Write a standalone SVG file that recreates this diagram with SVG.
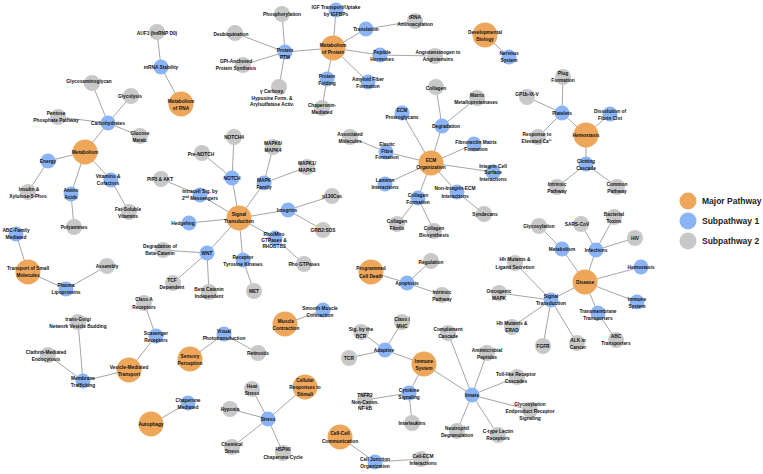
<svg xmlns="http://www.w3.org/2000/svg" width="763" height="474" viewBox="0 0 763 474">
<style>
.maj{fill:#EDA65A}
.s1{fill:#8AB4F6}
.s2{fill:#C8C8C8}
#edges line{stroke:#A6A6A6;stroke-width:1}
text{font-family:"Liberation Sans",Arial,sans-serif;font-size:4.8px;font-weight:bold;fill:#111;text-anchor:middle;dominant-baseline:central}
.leg{font-size:8.5px;fill:#222;text-anchor:start}
</style>
<rect width="763" height="474" fill="#fff"/>
<g id="edges">
<line x1="157" y1="32" x2="161" y2="67"/>
<line x1="161" y1="67" x2="181" y2="104"/>
<line x1="92" y1="83" x2="108" y2="123"/>
<line x1="131" y1="96" x2="108" y2="123"/>
<line x1="58" y1="117" x2="108" y2="123"/>
<line x1="140" y1="136" x2="108" y2="123"/>
<line x1="108" y1="123" x2="85" y2="152"/>
<line x1="85" y1="152" x2="48" y2="161"/>
<line x1="48" y1="161" x2="28" y2="192"/>
<line x1="85" y1="152" x2="71" y2="194"/>
<line x1="71" y1="194" x2="74" y2="227"/>
<line x1="85" y1="152" x2="111" y2="180"/>
<line x1="111" y1="180" x2="129" y2="212"/>
<line x1="16" y1="234" x2="28" y2="272"/>
<line x1="28" y1="272" x2="66" y2="289"/>
<line x1="66" y1="289" x2="107" y2="266"/>
<line x1="282" y1="14" x2="285" y2="52"/>
<line x1="235" y1="33" x2="285" y2="52"/>
<line x1="243" y1="65" x2="285" y2="52"/>
<line x1="279" y1="87" x2="285" y2="52"/>
<line x1="285" y1="52" x2="333" y2="48"/>
<line x1="336" y1="10" x2="333" y2="48"/>
<line x1="366" y1="29" x2="333" y2="48"/>
<line x1="366" y1="29" x2="415" y2="21"/>
<line x1="380" y1="55" x2="333" y2="48"/>
<line x1="380" y1="55" x2="435" y2="56"/>
<line x1="327" y1="79" x2="333" y2="48"/>
<line x1="327" y1="79" x2="322" y2="108"/>
<line x1="368" y1="82" x2="333" y2="48"/>
<line x1="485" y1="35" x2="509" y2="57"/>
<line x1="436" y1="87" x2="442" y2="126"/>
<line x1="477" y1="98" x2="442" y2="126"/>
<line x1="442" y1="126" x2="431" y2="163"/>
<line x1="402" y1="113" x2="431" y2="163"/>
<line x1="474" y1="144" x2="431" y2="163"/>
<line x1="386" y1="152" x2="431" y2="163"/>
<line x1="386" y1="152" x2="350" y2="137"/>
<line x1="385" y1="184" x2="431" y2="163"/>
<line x1="493" y1="172" x2="431" y2="163"/>
<line x1="457" y1="192" x2="431" y2="163"/>
<line x1="457" y1="192" x2="484" y2="214"/>
<line x1="418" y1="198" x2="431" y2="163"/>
<line x1="418" y1="198" x2="397" y2="224"/>
<line x1="418" y1="198" x2="434" y2="231"/>
<line x1="527" y1="97" x2="562" y2="113"/>
<line x1="563" y1="77" x2="562" y2="113"/>
<line x1="538" y1="137" x2="562" y2="113"/>
<line x1="562" y1="113" x2="586" y2="135"/>
<line x1="610" y1="114" x2="586" y2="135"/>
<line x1="586" y1="135" x2="586" y2="164"/>
<line x1="586" y1="164" x2="557" y2="187"/>
<line x1="586" y1="164" x2="617" y2="187"/>
<line x1="239" y1="218" x2="232" y2="178"/>
<line x1="232" y1="178" x2="234" y2="137"/>
<line x1="232" y1="178" x2="202" y2="153"/>
<line x1="239" y1="218" x2="264" y2="183"/>
<line x1="264" y1="183" x2="273" y2="147"/>
<line x1="264" y1="183" x2="307" y2="167"/>
<line x1="239" y1="218" x2="200" y2="195"/>
<line x1="200" y1="195" x2="161" y2="179"/>
<line x1="239" y1="218" x2="189" y2="223"/>
<line x1="239" y1="218" x2="288" y2="210"/>
<line x1="288" y1="210" x2="332" y2="196"/>
<line x1="288" y1="210" x2="323" y2="230"/>
<line x1="239" y1="218" x2="275" y2="238"/>
<line x1="275" y1="238" x2="304" y2="264"/>
<line x1="239" y1="218" x2="243" y2="260"/>
<line x1="243" y1="260" x2="254" y2="291"/>
<line x1="239" y1="218" x2="207" y2="253"/>
<line x1="207" y1="253" x2="163" y2="250"/>
<line x1="207" y1="253" x2="173" y2="283"/>
<line x1="207" y1="253" x2="209" y2="292"/>
<line x1="371" y1="272" x2="407" y2="283"/>
<line x1="407" y1="283" x2="431" y2="261"/>
<line x1="407" y1="283" x2="442" y2="295"/>
<line x1="285" y1="324" x2="323" y2="310"/>
<line x1="585" y1="282" x2="562" y2="249"/>
<line x1="562" y1="249" x2="539" y2="226"/>
<line x1="585" y1="282" x2="596" y2="250"/>
<line x1="596" y1="250" x2="581" y2="224"/>
<line x1="596" y1="250" x2="614" y2="217"/>
<line x1="596" y1="250" x2="635" y2="238"/>
<line x1="585" y1="282" x2="641" y2="267"/>
<line x1="585" y1="282" x2="637" y2="302"/>
<line x1="585" y1="282" x2="598" y2="313"/>
<line x1="598" y1="313" x2="616" y2="340"/>
<line x1="585" y1="282" x2="551" y2="300"/>
<line x1="551" y1="300" x2="515" y2="263"/>
<line x1="551" y1="300" x2="499" y2="293"/>
<line x1="551" y1="300" x2="512" y2="327"/>
<line x1="551" y1="300" x2="543" y2="346"/>
<line x1="551" y1="300" x2="577" y2="343"/>
<line x1="144" y1="303" x2="156" y2="336"/>
<line x1="156" y1="336" x2="129" y2="370"/>
<line x1="129" y1="370" x2="83" y2="381"/>
<line x1="83" y1="381" x2="78" y2="322"/>
<line x1="83" y1="381" x2="48" y2="355"/>
<line x1="190" y1="359" x2="224" y2="334"/>
<line x1="224" y1="334" x2="258" y2="353"/>
<line x1="151" y1="424" x2="188" y2="403"/>
<line x1="305" y1="387" x2="268" y2="419"/>
<line x1="268" y1="419" x2="252" y2="389"/>
<line x1="268" y1="419" x2="230" y2="409"/>
<line x1="268" y1="419" x2="232" y2="447"/>
<line x1="268" y1="419" x2="283" y2="453"/>
<line x1="424" y1="364" x2="385" y2="350"/>
<line x1="385" y1="350" x2="402" y2="322"/>
<line x1="385" y1="350" x2="361" y2="332"/>
<line x1="385" y1="350" x2="349" y2="358"/>
<line x1="424" y1="364" x2="409" y2="393"/>
<line x1="409" y1="393" x2="365" y2="400"/>
<line x1="409" y1="393" x2="412" y2="423"/>
<line x1="424" y1="364" x2="472" y2="395"/>
<line x1="472" y1="395" x2="448" y2="333"/>
<line x1="472" y1="395" x2="487" y2="353"/>
<line x1="472" y1="395" x2="517" y2="377"/>
<line x1="472" y1="395" x2="530" y2="410"/>
<line x1="472" y1="395" x2="498" y2="435"/>
<line x1="472" y1="395" x2="457" y2="431"/>
<line x1="340" y1="437" x2="375" y2="462"/>
<line x1="375" y1="462" x2="421" y2="459"/>
</g>
<g id="nodes">
<g id="metab-rna"><circle class="maj" cx="181" cy="104" r="12.5"/><text x="181" y="101">Metabolism</text><text x="181" y="108">of RNA</text></g>
<g id="mrna-stability"><circle class="s1" cx="161" cy="67" r="7.5"/><text x="161" y="67">mRNA Stability</text></g>
<g id="auf1"><circle class="s2" cx="157" cy="32" r="8"/><text x="157" y="33">AUF1 (hnRNP D0)</text></g>
<g id="metabolism"><circle class="maj" cx="85" cy="152" r="12.5"/><text x="85" y="152">Metabolism</text></g>
<g id="carbohydrates"><circle class="s1" cx="108" cy="123" r="7.5"/><text x="108" y="123">Carbohydrates</text></g>
<g id="glycosaminoglycan"><circle class="s2" cx="92" cy="83" r="8"/><text x="89" y="81">Glycosaminoglycan</text></g>
<g id="glycolysis"><circle class="s2" cx="131" cy="96" r="8"/><text x="130" y="96">Glycolysis</text></g>
<g id="pentose"><circle class="s2" cx="58" cy="117" r="8"/><text x="56" y="113">Pentose</text><text x="56" y="120">Phosphate Pathway</text></g>
<g id="glucose"><circle class="s2" cx="140" cy="136" r="8"/><text x="140" y="133">Glucose</text><text x="140" y="140">Metab.</text></g>
<g id="energy"><circle class="s1" cx="48" cy="161" r="7.5"/><text x="48" y="161">Energy</text></g>
<g id="insulin"><circle class="s2" cx="28" cy="192" r="8"/><text x="29" y="189">Insulin &amp;</text><text x="28" y="196">Xylulose-5-Phos</text></g>
<g id="amino-acids"><circle class="s1" cx="71" cy="194" r="7.5"/><text x="71" y="190">Amino</text><text x="71" y="197">Acids</text></g>
<g id="polyamines"><circle class="s2" cx="74" cy="227" r="8"/><text x="74" y="227">Polyamines</text></g>
<g id="vitamins"><circle class="s1" cx="111" cy="180" r="7.5"/><text x="108" y="176">Vitamins &amp;</text><text x="108" y="183">Cofactors</text></g>
<g id="fat-soluble"><circle class="s2" cx="129" cy="212" r="8"/><text x="128" y="209">Fat-Soluble</text><text x="128" y="216">Vitamins</text></g>
<g id="abc-family"><circle class="s1" cx="16" cy="234" r="7.5"/><text x="16" y="230">ABC-Family</text><text x="16" y="237">Mediated</text></g>
<g id="transport-small"><circle class="maj" cx="28" cy="272" r="12.5"/><text x="28" y="268">Transport of Small</text><text x="28" y="275">Molecules</text></g>
<g id="plasma-lipo"><circle class="s1" cx="66" cy="289" r="7.5"/><text x="66" y="285">Plasma</text><text x="66" y="292">Lipoproteins</text></g>
<g id="assembly"><circle class="s2" cx="107" cy="266" r="8"/><text x="107" y="266">Assembly</text></g>
<g id="protein-ptm"><circle class="s1" cx="285" cy="52" r="7.5"/><text x="285" y="50">Protein</text><text x="285" y="57">PTM</text></g>
<g id="phosphorylation"><circle class="s2" cx="282" cy="14" r="8"/><text x="282" y="14">Phosphorylation</text></g>
<g id="deubiquination"><circle class="s2" cx="235" cy="33" r="8"/><text x="231" y="34">Deubiquination</text></g>
<g id="gpi"><circle class="s2" cx="243" cy="65" r="8"/><text x="236" y="61">GPI-Anchored</text><text x="236" y="68">Protein Synthesis</text></g>
<g id="gamma"><circle class="s2" cx="279" cy="87" r="8"/><text x="272" y="91">γ Carboxy,</text><text x="272" y="98">Hypusine Form. &amp;</text><text x="272" y="104">Arylsulfatase Activ.</text></g>
<g id="metab-protein"><circle class="maj" cx="333" cy="48" r="12.5"/><text x="333" y="45">Metabolism</text><text x="333" y="52">of Protein</text></g>
<g id="igf"><circle class="s1" cx="336" cy="10" r="7.5"/><text x="336" y="7">IGF Transport/Uptake</text><text x="336" y="14">by IGFBPs</text></g>
<g id="translation"><circle class="s1" cx="366" cy="29" r="7.5"/><text x="366" y="29">Translation</text></g>
<g id="trna"><circle class="s2" cx="415" cy="21" r="8"/><text x="415" y="17">tRNA</text><text x="415" y="24">Aminoacylation</text></g>
<g id="peptide"><circle class="s1" cx="380" cy="55" r="7.5"/><text x="382" y="52">Peptide</text><text x="382" y="59">Hormones</text></g>
<g id="angio"><circle class="s2" cx="435" cy="56" r="8"/><text x="438" y="52">Angiotensinogen to</text><text x="438" y="59">Angiotensins</text></g>
<g id="folding"><circle class="s1" cx="327" cy="79" r="7.5"/><text x="327" y="76">Protein</text><text x="327" y="83">Folding</text></g>
<g id="chaperonin"><circle class="s2" cx="322" cy="108" r="8"/><text x="322" y="105">Chaperonin-</text><text x="322" y="112">Mediated</text></g>
<g id="amyloid"><circle class="s1" cx="368" cy="82" r="7.5"/><text x="368" y="79">Amyloid Fiber</text><text x="368" y="86">Formation</text></g>
<g id="dev-bio"><circle class="maj" cx="485" cy="35" r="12.5"/><text x="485" y="32">Developmental</text><text x="485" y="39">Biology</text></g>
<g id="nervous"><circle class="s1" cx="509" cy="57" r="7.5"/><text x="509" y="53">Nervous</text><text x="509" y="60">System</text></g>
<g id="collagen"><circle class="s2" cx="436" cy="87" r="8"/><text x="436" y="88">Collagen</text></g>
<g id="mmp"><circle class="s2" cx="477" cy="98" r="8"/><text x="477" y="95">Matrix</text><text x="476" y="102">Metalloproteinases</text></g>
<g id="degradation"><circle class="s1" cx="442" cy="126" r="7.5"/><text x="446" y="126">Degradation</text></g>
<g id="ecm-proteo"><circle class="s1" cx="402" cy="113" r="7.5"/><text x="402" y="110">ECM</text><text x="402" y="117">Proteoglycans</text></g>
<g id="ecm-org"><circle class="maj" cx="431" cy="163" r="12.5"/><text x="431" y="160">ECM</text><text x="431" y="167">Organization</text></g>
<g id="fibronectin"><circle class="s1" cx="474" cy="144" r="7.5"/><text x="476" y="142">Fibronectin Matrix</text><text x="476" y="149">Formation</text></g>
<g id="elastic"><circle class="s1" cx="386" cy="152" r="7.5"/><text x="387" y="144">Elastic</text><text x="387" y="151">Fibre</text><text x="387" y="157">Formation</text></g>
<g id="assoc"><circle class="s2" cx="350" cy="137" r="8"/><text x="350" y="134">Associated</text><text x="350" y="141">Molecules</text></g>
<g id="laminin"><circle class="s1" cx="385" cy="184" r="7.5"/><text x="385" y="180">Laminin</text><text x="385" y="187">Interactions</text></g>
<g id="integrin-cell"><circle class="s1" cx="493" cy="172" r="7.5"/><text x="493" y="166">Integrin Cell</text><text x="493" y="172">Surface</text><text x="493" y="179">Interactions</text></g>
<g id="non-integrin"><circle class="s1" cx="457" cy="192" r="7.5"/><text x="455" y="188">Non-Integrin-ECM</text><text x="455" y="196">Interactions</text></g>
<g id="syndecans"><circle class="s2" cx="484" cy="214" r="8"/><text x="485" y="214">Syndecans</text></g>
<g id="coll-form"><circle class="s1" cx="418" cy="198" r="7.5"/><text x="418" y="195">Collagen</text><text x="418" y="202">Formation</text></g>
<g id="coll-fib"><circle class="s2" cx="397" cy="224" r="8"/><text x="397" y="221">Collagen</text><text x="397" y="228">Fibrils</text></g>
<g id="coll-bio"><circle class="s2" cx="434" cy="231" r="8"/><text x="434" y="228">Collagen</text><text x="434" y="235">Biosynthesis</text></g>
<g id="gp1b"><circle class="s2" cx="527" cy="97" r="8"/><text x="527" y="94">GP1b-IX-V</text></g>
<g id="plug"><circle class="s2" cx="563" cy="77" r="8"/><text x="563" y="73">Plug</text><text x="563" y="80">Formation</text></g>
<g id="platelets"><circle class="s1" cx="562" cy="113" r="7.5"/><text x="562" y="113">Platelets</text></g>
<g id="response"><circle class="s2" cx="538" cy="137" r="8"/><text x="537" y="134">Response to</text><text x="537" y="141">Elevated Ca²⁺</text></g>
<g id="hemostasis"><circle class="maj" cx="586" cy="135" r="12.5"/><text x="586" y="135">Hemostasis</text></g>
<g id="dissolution"><circle class="s1" cx="610" cy="114" r="7.5"/><text x="610" y="111">Dissolution of</text><text x="610" y="118">Fibrin Clot</text></g>
<g id="clotting"><circle class="s1" cx="586" cy="164" r="7.5"/><text x="586" y="161">Clotting</text><text x="586" y="168">Cascade</text></g>
<g id="common"><circle class="s2" cx="617" cy="187" r="8"/><text x="617" y="184">Common</text><text x="617" y="191">Pathway</text></g>
<g id="intrinsic-clot"><circle class="s2" cx="557" cy="187" r="8"/><text x="557" y="184">Intrinsic</text><text x="557" y="191">Pathway</text></g>
<g id="signal"><circle class="maj" cx="239" cy="218" r="12.5"/><text x="239" y="214">Signal</text><text x="239" y="221">Transduction</text></g>
<g id="notch"><circle class="s1" cx="232" cy="178" r="7.5"/><text x="232" y="178">NOTCH</text></g>
<g id="notch4"><circle class="s2" cx="234" cy="137" r="8"/><text x="234" y="137">NOTCH4</text></g>
<g id="pre-notch"><circle class="s2" cx="202" cy="153" r="8"/><text x="201" y="154">Pre-NOTCH</text></g>
<g id="mapk-family"><circle class="s1" cx="264" cy="183" r="7.5"/><text x="264" y="180">MAPK</text><text x="264" y="187">Family</text></g>
<g id="mapk64"><circle class="s2" cx="273" cy="147" r="8"/><text x="273" y="143">MAPK6/</text><text x="273" y="150">MAPK4</text></g>
<g id="mapk13"><circle class="s2" cx="307" cy="167" r="8"/><text x="307" y="163">MAPK1/</text><text x="307" y="170">MAPK3</text></g>
<g id="intracell"><circle class="s1" cx="200" cy="195" r="7.5"/><text x="200" y="191">Intracell Sig. by</text><text x="200" y="198">2<tspan font-size="3.4" dy="-1.2">nd</tspan><tspan dy="1.2"> Messengers</tspan></text></g>
<g id="pip3"><circle class="s2" cx="161" cy="179" r="8"/><text x="160" y="179">PIP3 &amp; AKT</text></g>
<g id="hedgehog"><circle class="s1" cx="189" cy="223" r="7.5"/><text x="183" y="223">Hedgehog</text></g>
<g id="integrins"><circle class="s1" cx="288" cy="210" r="7.5"/><text x="287" y="210">Integrins</text></g>
<g id="p130"><circle class="s2" cx="332" cy="196" r="8"/><text x="332" y="196">p130Cas</text></g>
<g id="grb2"><circle class="s2" cx="323" cy="230" r="8"/><text x="323" y="230">GRB2:SOS</text></g>
<g id="rho-miro"><circle class="s1" cx="275" cy="238" r="7.5"/><text x="274" y="234">Rho/Miro</text><text x="274" y="240">GTPases &amp;</text><text x="274" y="246">RHOBTB3</text></g>
<g id="rho-gtp"><circle class="s2" cx="304" cy="264" r="8"/><text x="304" y="264">Rho GTPases</text></g>
<g id="rtk"><circle class="s1" cx="243" cy="260" r="7.5"/><text x="243" y="257">Receptor</text><text x="243" y="264">Tyrosine Kinases</text></g>
<g id="met"><circle class="s2" cx="254" cy="291" r="8"/><text x="254" y="291">MET</text></g>
<g id="wnt"><circle class="s1" cx="207" cy="253" r="7.5"/><text x="207" y="253">WNT</text></g>
<g id="deg-beta"><circle class="s2" cx="163" cy="250" r="8"/><text x="160" y="246">Degradation of</text><text x="160" y="253">Beta-Catenin</text></g>
<g id="tcf"><circle class="s2" cx="173" cy="283" r="8"/><text x="172" y="280">TCF</text><text x="172" y="287">Dependent</text></g>
<g id="beta-indep"><circle class="s2" cx="209" cy="292" r="8"/><text x="209" y="289">Beta Catenin</text><text x="209" y="296">Independent</text></g>
<g id="prog-death"><circle class="maj" cx="371" cy="272" r="12.5"/><text x="371" y="268">Programmed</text><text x="371" y="276">Cell Death</text></g>
<g id="apoptosis"><circle class="s1" cx="407" cy="283" r="7.5"/><text x="407" y="283">Apoptosis</text></g>
<g id="regulation"><circle class="s2" cx="431" cy="261" r="8"/><text x="431" y="262">Regulation</text></g>
<g id="intrinsic-apo"><circle class="s2" cx="442" cy="295" r="8"/><text x="442" y="292">Intrinsic</text><text x="442" y="299">Pathway</text></g>
<g id="muscle"><circle class="maj" cx="285" cy="324" r="12.5"/><text x="286" y="321">Muscle</text><text x="286" y="328">Contraction</text></g>
<g id="smooth"><circle class="s1" cx="323" cy="310" r="7.5"/><text x="320" y="308">Smooth Muscle</text><text x="320" y="315">Contraction</text></g>
<g id="disease"><circle class="maj" cx="585" cy="282" r="12.5"/><text x="585" y="282">Disease</text></g>
<g id="metab-dis"><circle class="s1" cx="562" cy="249" r="7.5"/><text x="562" y="249">Metabolism</text></g>
<g id="glycosylation"><circle class="s2" cx="539" cy="226" r="8"/><text x="539" y="226">Glycosylation</text></g>
<g id="infections"><circle class="s1" cx="596" cy="250" r="7.5"/><text x="596" y="250">Infections</text></g>
<g id="sars"><circle class="s2" cx="581" cy="224" r="8"/><text x="577" y="224">SARS-CoV</text></g>
<g id="bacterial"><circle class="s2" cx="614" cy="217" r="8"/><text x="614" y="214">Bacterial</text><text x="614" y="221">Toxins</text></g>
<g id="hiv"><circle class="s2" cx="635" cy="238" r="8"/><text x="635" y="238">HIV</text></g>
<g id="hemo-dis"><circle class="s1" cx="641" cy="267" r="7.5"/><text x="641" y="267">Hemostasis</text></g>
<g id="immune-dis"><circle class="s1" cx="637" cy="302" r="7.5"/><text x="637" y="299">Immune</text><text x="637" y="306">System</text></g>
<g id="transmem"><circle class="s1" cx="598" cy="313" r="7.5"/><text x="598" y="311">Transmembrane</text><text x="598" y="318">Transporters</text></g>
<g id="abc-trans"><circle class="s2" cx="616" cy="340" r="8"/><text x="616" y="336">ABC</text><text x="616" y="343">Transporters</text></g>
<g id="sig-dis"><circle class="s1" cx="551" cy="300" r="7.5"/><text x="551" y="296">Signal</text><text x="551" y="303">Transduction</text></g>
<g id="hh-lig"><circle class="s2" cx="515" cy="263" r="8"/><text x="515" y="259">Hh Mutants &amp;</text><text x="515" y="267">Ligand Secretion</text></g>
<g id="oncogenic"><circle class="s2" cx="499" cy="293" r="8"/><text x="499" y="291">Oncogenic</text><text x="499" y="298">MAPK</text></g>
<g id="hh-erad"><circle class="s2" cx="512" cy="327" r="8"/><text x="512" y="323">Hh Mutants &amp;</text><text x="512" y="330">ERAD</text></g>
<g id="fgfr"><circle class="s2" cx="543" cy="346" r="8"/><text x="543" y="346">FGFR</text></g>
<g id="alk"><circle class="s2" cx="577" cy="343" r="8"/><text x="578" y="340">ALK in</text><text x="578" y="347">Cancer</text></g>
<g id="class-a"><circle class="s2" cx="144" cy="303" r="8"/><text x="144" y="299">Class A</text><text x="144" y="307">Receptors</text></g>
<g id="scavenger"><circle class="s1" cx="156" cy="336" r="7.5"/><text x="156" y="333">Scavenger</text><text x="156" y="340">Receptors</text></g>
<g id="vesicle"><circle class="maj" cx="129" cy="370" r="12.5"/><text x="129" y="367">Vesicle-Mediated</text><text x="129" y="374">Transport</text></g>
<g id="membrane"><circle class="s1" cx="83" cy="381" r="7.5"/><text x="83" y="378">Membrane</text><text x="83" y="385">Trafficking</text></g>
<g id="trans-golgi"><circle class="s2" cx="78" cy="322" r="8"/><text x="78" y="319">trans-Golgi</text><text x="78" y="326">Network Vesicle Budding</text></g>
<g id="clathrin"><circle class="s2" cx="48" cy="355" r="8"/><text x="46" y="352">Clathrin-Mediated</text><text x="46" y="359">Endocytosis</text></g>
<g id="sensory"><circle class="maj" cx="190" cy="359" r="12.5"/><text x="190" y="356">Sensory</text><text x="190" y="363">Perception</text></g>
<g id="visual"><circle class="s1" cx="224" cy="334" r="7.5"/><text x="224" y="331">Visual</text><text x="224" y="338">Phototransduction</text></g>
<g id="retinoids"><circle class="s2" cx="258" cy="353" r="8"/><text x="258" y="353">Retinoids</text></g>
<g id="autophagy"><circle class="maj" cx="151" cy="424" r="12.5"/><text x="151" y="424">Autophagy</text></g>
<g id="chaperone-med"><circle class="s1" cx="188" cy="403" r="7.5"/><text x="188" y="400">Chaperone</text><text x="188" y="407">Mediated</text></g>
<g id="cellular"><circle class="maj" cx="305" cy="387" r="12.5"/><text x="305" y="380">Cellular</text><text x="305" y="387">Responses to</text><text x="305" y="394">Stimuli</text></g>
<g id="stress"><circle class="s1" cx="268" cy="419" r="7.5"/><text x="268" y="419">Stress</text></g>
<g id="heat"><circle class="s2" cx="252" cy="389" r="8"/><text x="252" y="386">Heat</text><text x="252" y="393">Stress</text></g>
<g id="hypoxia"><circle class="s2" cx="230" cy="409" r="8"/><text x="230" y="409">Hypoxia</text></g>
<g id="chemical"><circle class="s2" cx="232" cy="447" r="8"/><text x="232" y="444">Chemical</text><text x="232" y="451">Stress</text></g>
<g id="hsp90"><circle class="s2" cx="283" cy="453" r="8"/><text x="283" y="449">HSP90</text><text x="283" y="457">Chaperone Cycle</text></g>
<g id="immune"><circle class="maj" cx="424" cy="364" r="12.5"/><text x="424" y="361">Immune</text><text x="424" y="368">System</text></g>
<g id="adaptive"><circle class="s1" cx="385" cy="350" r="7.5"/><text x="384" y="350">Adaptive</text></g>
<g id="class1"><circle class="s2" cx="402" cy="322" r="8"/><text x="402" y="319">Class I</text><text x="402" y="326">MHC</text></g>
<g id="sig-bcr"><circle class="s2" cx="361" cy="332" r="8"/><text x="361" y="329">Sig. by the</text><text x="361" y="336">BCR</text></g>
<g id="tcr"><circle class="s2" cx="349" cy="358" r="8"/><text x="349" y="358">TCR</text></g>
<g id="cytokine"><circle class="s1" cx="409" cy="393" r="7.5"/><text x="409" y="390">Cytokine</text><text x="409" y="397">Signaling</text></g>
<g id="tnfr2"><circle class="s2" cx="365" cy="400" r="8"/><text x="365" y="395">TNFR2</text><text x="365" y="402">Non-Canon.</text><text x="365" y="408">NF-kB</text></g>
<g id="interleukins"><circle class="s2" cx="412" cy="423" r="8"/><text x="412" y="423">Interleukins</text></g>
<g id="innate"><circle class="s1" cx="472" cy="395" r="7.5"/><text x="472" y="395">Innate</text></g>
<g id="complement"><circle class="s2" cx="448" cy="333" r="8"/><text x="448" y="329">Complement</text><text x="448" y="336">Cascade</text></g>
<g id="antimicrobial"><circle class="s2" cx="487" cy="353" r="8"/><text x="487" y="350">Antimicrobial</text><text x="487" y="357">Peptides</text></g>
<g id="toll"><circle class="s2" cx="517" cy="377" r="8"/><text x="516" y="374">Toll-like Receptor</text><text x="516" y="381">Cascades</text></g>
<g id="glyc-end"><circle class="s2" cx="530" cy="410" r="8"/><text x="530" y="404">Glycosylation</text><text x="530" y="411">Endproduct Receptor</text><text x="530" y="418">Signaling</text></g>
<g id="ctype"><circle class="s2" cx="498" cy="435" r="8"/><text x="498" y="431">C-type Lectin</text><text x="498" y="438">Receptors</text></g>
<g id="neutrophil"><circle class="s2" cx="457" cy="431" r="8"/><text x="457" y="428">Neutrophil</text><text x="457" y="435">Degranulation</text></g>
<g id="cellcell"><circle class="maj" cx="340" cy="437" r="12.5"/><text x="340" y="433">Cell-Cell</text><text x="340" y="441">Communication</text></g>
<g id="cell-junction"><circle class="s1" cx="375" cy="462" r="7.5"/><text x="375" y="459">Cell Junction</text><text x="375" y="466">Organization</text></g>
<g id="cell-ecm"><circle class="s2" cx="421" cy="459" r="8"/><text x="423" y="456">Cell-ECM</text><text x="423" y="463">Interactions</text></g>
</g>
<g id="legend">
<circle class="maj" cx="688" cy="201" r="8.5"/><text class="leg" x="702" y="201">Major Pathway</text>
<circle class="s1" cx="688" cy="221" r="8.5"/><text class="leg" x="702" y="221">Subpathway 1</text>
<circle class="s2" cx="688" cy="241" r="8.5"/><text class="leg" x="702" y="241">Subpathway 2</text>
</g>
</svg>
